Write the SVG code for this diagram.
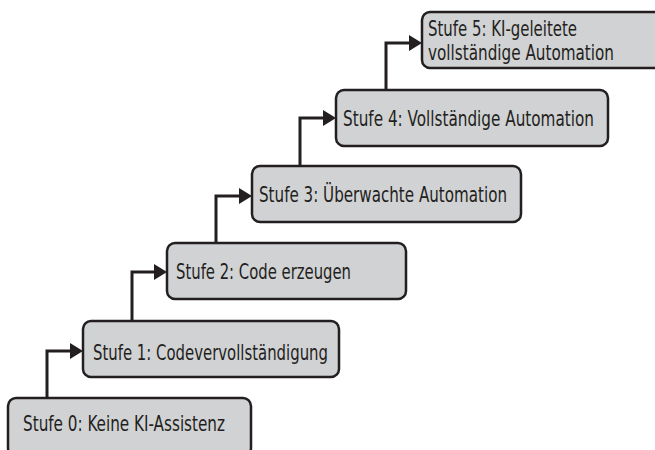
<svg xmlns="http://www.w3.org/2000/svg" width="655" height="450" viewBox="0 0 655 450">
<defs>
<style>
.box{fill:#d1d2d4;stroke:#231f20;stroke-width:2.5}
.lbl{font-family:"DejaVu Sans Condensed","Liberation Sans",sans-serif;font-size:21.5px;fill:#231f20}
.con{fill:none;stroke:#231f20;stroke-width:3}
</style>
<marker id="ah" markerUnits="userSpaceOnUse" viewBox="0 0 13 16" refX="7" refY="8" markerWidth="13" markerHeight="16" orient="auto">
<path d="M0,0 L13,8 L0,16 z" fill="#231f20"/>
</marker>
</defs>
<rect width="655" height="450" fill="#ffffff"/>
<g id="connectors">
<path class="con" d="M47,398 V351 H77" marker-end="url(#ah)"/>
<path class="con" d="M132,321 V272 H161" marker-end="url(#ah)"/>
<path class="con" d="M216,243 V196 H246" marker-end="url(#ah)"/>
<path class="con" d="M300,166 V118 H330" marker-end="url(#ah)"/>
<path class="con" d="M386,90 V43 H416" marker-end="url(#ah)"/>
</g>
<g id="stufe0">
<rect class="box" x="8" y="398" width="243" height="58" rx="8"/>
<text class="lbl" x="23" y="431" textLength="202" lengthAdjust="spacingAndGlyphs">Stufe 0: Keine KI-Assistenz</text>
</g>
<g id="stufe1">
<rect class="box" x="83" y="321" width="256" height="56" rx="8"/>
<text class="lbl" x="93" y="360" textLength="235" lengthAdjust="spacingAndGlyphs">Stufe 1: Codevervollständigung</text>
</g>
<g id="stufe2">
<rect class="box" x="167" y="243" width="239" height="56" rx="8"/>
<text class="lbl" x="176" y="279" textLength="175" lengthAdjust="spacingAndGlyphs">Stufe 2: Code erzeugen</text>
</g>
<g id="stufe3">
<rect class="box" x="252" y="166" width="269" height="56" rx="8"/>
<text class="lbl" x="259" y="202" textLength="248" lengthAdjust="spacingAndGlyphs">Stufe 3: Überwachte Automation</text>
</g>
<g id="stufe4">
<rect class="box" x="336" y="90" width="272" height="56" rx="8"/>
<text class="lbl" x="343" y="126" textLength="251" lengthAdjust="spacingAndGlyphs">Stufe 4: Vollständige Automation</text>
</g>
<g id="stufe5">
<rect class="box" x="422" y="12" width="245" height="56" rx="8"/>
<text class="lbl" x="428" y="36" textLength="149" lengthAdjust="spacingAndGlyphs">Stufe 5: KI-geleitete</text>
<text class="lbl" x="428" y="60" textLength="186" lengthAdjust="spacingAndGlyphs">vollständige Automation</text>
</g>
</svg>
